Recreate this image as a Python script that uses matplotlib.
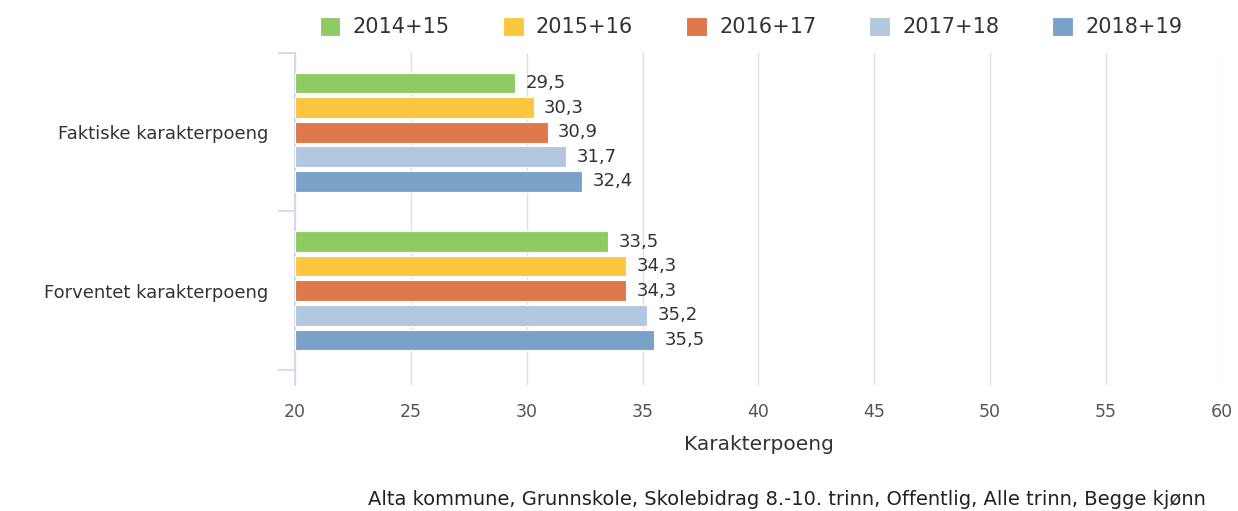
import matplotlib.pyplot as plt
import numpy as np

categories = ["Faktiske karakterpoeng", "Forventet karakterpoeng"]
series_names = ["2014+15", "2015+16", "2016+17", "2017+18", "2018+19"]
values = [
    [29.5, 33.5],
    [30.3, 34.3],
    [30.9, 34.3],
    [31.7, 35.2],
    [32.4, 35.5],
]
colors = ["#8fcb63", "#fdc63f", "#df784b", "#b1c8df", "#7aa2c8"]
x_ticks = [20, 25, 30, 35, 40, 45, 50, 55, 60]
footer = "Alta kommune, Grunnskole, Skolebidrag 8.-10. trinn, Offentlig, Alle trinn, Begge kjønn"


def main():
    plt.rcParams["font.family"] = ["DejaVu Sans"]
    fig = plt.figure(figsize=(12.38, 5.11), dpi=100)
    # plot area runs a little below the last category tick
    ax = fig.add_axes([0.2383, 0.2466, 0.7487, 0.6497])

    step = 0.155
    height = 0.13
    y_base = np.arange(len(categories))
    for i, (name, vals) in enumerate(zip(series_names, values)):
        ys = y_base + (i - 2) * step
        bars = ax.barh(ys, np.array(vals) - 20, left=20, height=height,
                       color=colors[i], edgecolor="white", linewidth=0.8,
                       label=name, zorder=3)
        for b, v in zip(bars, vals):
            ax.text(v + 0.45, b.get_y() + b.get_height() / 2,
                    f"{v:.1f}".replace(".", ","), va="center", ha="left",
                    fontsize=13, color="#333333", zorder=4)

    ax.set_xlim(20, 60)
    ax.set_ylim(1.595, -0.5)
    ax.set_xticks(x_ticks)
    ax.set_xticklabels([str(t) for t in x_ticks], fontsize=12.5, color="#555555")
    ax.tick_params(axis="x", length=0, pad=13)
    ax.set_yticks(y_base)
    ax.set_yticklabels(categories, fontsize=13, color="#333333")
    ax.tick_params(axis="y", which="major", length=0, pad=19)
    ax.set_yticks([-0.5, 0.5, 1.5], minor=True)
    ax.tick_params(axis="y", which="minor", length=12, width=1.2, color="#ccd6eb")
    ax.grid(axis="x", color="#e0e0e0", linewidth=1, zorder=0)
    for s in ["top", "right", "bottom"]:
        ax.spines[s].set_visible(False)
    ax.spines["left"].set_color("#ccd6eb")
    ax.spines["left"].set_linewidth(1.2)

    ax.set_xlabel("Karakterpoeng", fontsize=14.5, color="#333333", labelpad=10)

    ax.legend(loc="center", bbox_to_anchor=(0.492, 1.078), ncol=5,
              frameon=False, fontsize=15, handlelength=1.0, handleheight=1.0,
              columnspacing=2.55, handletextpad=0.58, labelcolor="#333333")

    fig.text(0.636, 0.022, footer, ha="center", va="center", fontsize=14, color="#222222")

    fig.savefig("out.png", dpi=100)


if __name__ == "__main__":
    main()
